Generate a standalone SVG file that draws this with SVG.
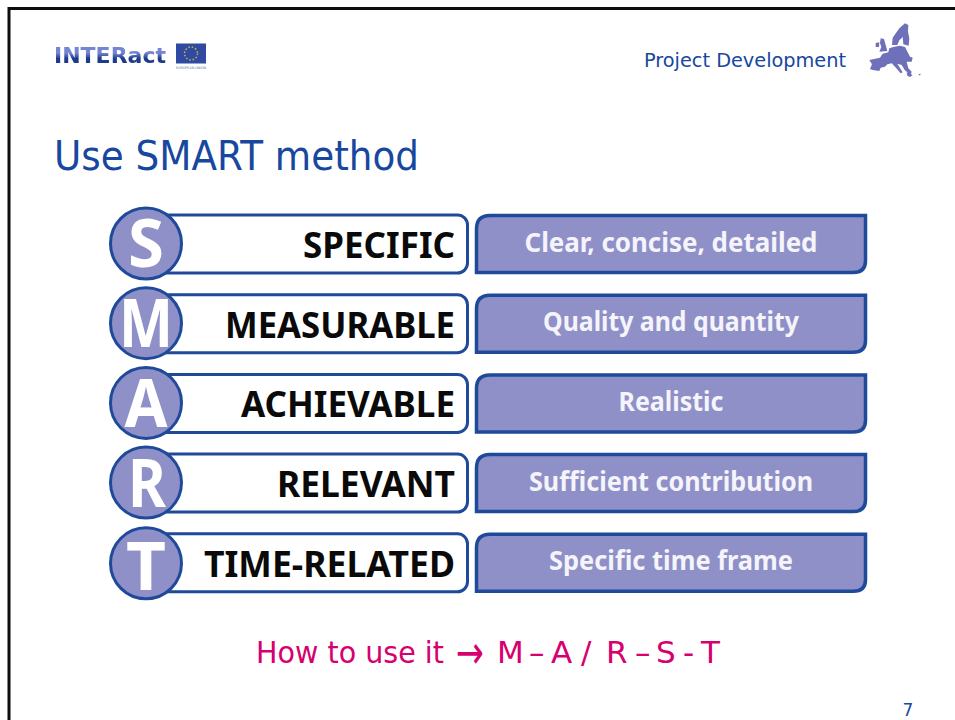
<svg xmlns="http://www.w3.org/2000/svg" width="955" height="720" viewBox="0 0 955 720">
<style>
text{font-family:"DejaVu Sans","Liberation Sans",sans-serif}
.lb{fill:#fff;stroke:#1f4a9a;stroke-width:3}
.rb{fill:#8f90c8;stroke:#1f4a9a;stroke-width:3.5}
.c{fill:#8f90c8;stroke:#1f4a9a;stroke-width:3}
.big{fill:#fff;font-family:"Noto Sans","DejaVu Sans",sans-serif;font-weight:700;font-size:67px;text-anchor:middle}
.lt{fill:#0a0a0a;font-family:"Noto Sans","DejaVu Sans",sans-serif;font-weight:700;font-size:36px;text-anchor:end}
.rt{fill:#f4f4fa;font-family:"Noto Sans","DejaVu Sans",sans-serif;font-weight:700;font-size:26px;text-anchor:middle}
.pk{fill:#d6006e;font-size:31px}
</style>
<defs>
<path id="rshape" d="M490 215.500H865.500V261Q865.500 272.500 853 272.500H476.500V229Q476.500 215.500 490 215.500Z"/>
<rect id="lshape" x="150" y="215" width="317.500" height="58" rx="10"/>
<linearGradient id="lg" x1="0" y1="0" x2="0" y2="1"><stop offset="0.4" stop-color="#7585d2"/><stop offset="0.62" stop-color="#1f3a8c"/></linearGradient>
<filter id="soft" x="-10%" y="-10%" width="120%" height="120%"><feGaussianBlur stdDeviation="0.5"/></filter>
</defs>
<rect width="955" height="720" fill="#fff"/>
<path d="M9 720V8.500H955" fill="none" stroke="#0d0d0d" stroke-width="3"/>
<g id="logo">
<g filter="url(#soft)"><text x="54" y="63" font-size="22" font-weight="700" fill="url(#lg)" textLength="112" lengthAdjust="spacingAndGlyphs">INTERact</text></g>
<rect x="176" y="43.500" width="30" height="20" fill="#2f4aa0"/>
<circle cx="191" cy="53.500" r="6.500" fill="none" stroke="#c9b64a" stroke-width="1.500" stroke-dasharray="1.500 1.900"/>
<text x="191" y="68.500" font-size="3.500" fill="#6272b0" text-anchor="middle" textLength="30" lengthAdjust="spacingAndGlyphs">EUROPEAN UNION</text>
</g>
<g id="header">
<text x="644" y="67" font-size="20" fill="#17479e" textLength="202" lengthAdjust="spacingAndGlyphs">Project Development</text>
<g transform="translate(860 15) scale(.3333)" fill="#6e71b9" filter="url(#soft)">
<path d="M28 135L60 128L68 116L85 112L88 100L100 96L120 92L135 96L150 125L158 128L155 140L140 140L145 160L155 170L150 185L142 172L134 165L125 150L112 146L128 172L122 175L105 155L95 145L82 148L75 155L62 158L58 168L38 165L30 162L36 148Z"/>
<path d="M96 90L98 68L118 40L135 25L145 30L144 50L148 70L146 92L130 88L128 66L118 76L112 90Z"/>
<path d="M62 70L72 72L82 108L58 110L64 96L60 84Z"/>
<path d="M47 84L58 82L57 96L47 96Z"/>
<path d="M140 172L158 180L150 186L142 182ZM175 178L182 176L180 182Z"/>
</g>
</g>
<text id="title" x="54" y="170" font-size="40" fill="#17479e" textLength="365" lengthAdjust="spacingAndGlyphs">Use SMART method</text>
<g id="row-s">
<use href="#lshape" class="lb"/><use href="#rshape" class="rb"/>
<circle cx="146" cy="243.500" r="35.500" class="c"/>
<text x="146" y="267" class="big" textLength="36" lengthAdjust="spacingAndGlyphs">S</text>
<text x="455" y="258" class="lt" textLength="152" lengthAdjust="spacingAndGlyphs">SPECIFIC</text>
<text x="671" y="252" class="rt" textLength="293" lengthAdjust="spacingAndGlyphs">Clear, concise, detailed</text>
</g>
<g id="row-m" transform="translate(0 79.700)">
<use href="#lshape" class="lb"/><use href="#rshape" class="rb"/>
<circle cx="146" cy="243.500" r="35.500" class="c"/>
<text x="146" y="267.500" class="big" textLength="54" lengthAdjust="spacingAndGlyphs">M</text>
<text x="455" y="258" class="lt" textLength="230" lengthAdjust="spacingAndGlyphs">MEASURABLE</text>
<text x="671" y="251" class="rt" textLength="256" lengthAdjust="spacingAndGlyphs">Quality and quantity</text>
</g>
<g id="row-a" transform="translate(0 159.400)">
<use href="#lshape" class="lb"/><use href="#rshape" class="rb"/>
<circle cx="146" cy="243.500" r="35.500" class="c"/>
<text x="146" y="267.500" class="big" textLength="43" lengthAdjust="spacingAndGlyphs">A</text>
<text x="455" y="258" class="lt" textLength="214" lengthAdjust="spacingAndGlyphs">ACHIEVABLE</text>
<text x="671" y="252" class="rt" textLength="105" lengthAdjust="spacingAndGlyphs">Realistic</text>
</g>
<g id="row-r" transform="translate(0 239.100)">
<use href="#lshape" class="lb"/><use href="#rshape" class="rb"/>
<circle cx="146" cy="243.500" r="35.500" class="c"/>
<text x="147" y="267.500" class="big" textLength="38" lengthAdjust="spacingAndGlyphs">R</text>
<text x="455" y="258" class="lt" textLength="178" lengthAdjust="spacingAndGlyphs">RELEVANT</text>
<text x="671" y="252" class="rt" textLength="284" lengthAdjust="spacingAndGlyphs">Sufficient contribution</text>
</g>
<g id="row-t" transform="translate(0 318.800)">
<use href="#lshape" class="lb"/><use href="#rshape" class="rb"/>
<circle cx="146" cy="244.500" r="35.500" class="c"/>
<text x="146" y="271" class="big" textLength="40" lengthAdjust="spacingAndGlyphs">T</text>
<text x="455" y="258.500" class="lt" textLength="251" lengthAdjust="spacingAndGlyphs">TIME-RELATED</text>
<text x="671" y="251" class="rt" textLength="244" lengthAdjust="spacingAndGlyphs">Specific time frame</text>
</g>
<g id="footer">
<text x="256" y="663" class="pk" textLength="188" lengthAdjust="spacingAndGlyphs">How to use it</text>
<text x="456" y="668" class="pk" style="font-size:46px" textLength="28" lengthAdjust="spacingAndGlyphs">→</text>
<text class="pk" y="663" x="497 520 529 540 551 571 581 593 606 625 635 646 656 673 683 692 701">M – A / R – S - T</text>
<text x="908" y="716" font-size="17" fill="#17479e" text-anchor="middle">7</text>
</g>
</svg>
